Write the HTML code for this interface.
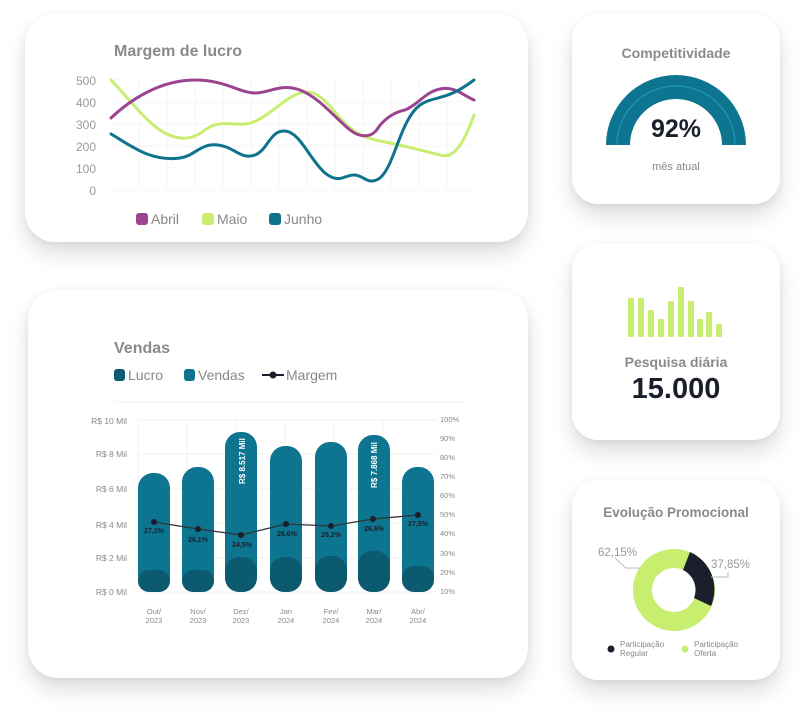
<!DOCTYPE html>
<html><head><meta charset="utf-8"><style>
html,body{margin:0;padding:0;background:#fff;width:808px;height:720px;overflow:hidden;font-family:"Liberation Sans",sans-serif}
.card{position:absolute;background:#fff;border-radius:30px;box-shadow:0 12px 22px rgba(0,0,0,0.13),0 2px 8px rgba(0,0,0,0.06)}
svg{position:absolute;left:0;top:0}
</style></head><body>
<div class="card" style="left:25px;top:14px;width:503px;height:228px"></div>
<div class="card" style="left:28px;top:290px;width:500px;height:388px"></div>
<div class="card" style="left:572px;top:14px;width:208px;height:190px;border-radius:26px"></div>
<div class="card" style="left:572px;top:244px;width:208px;height:196px;border-radius:26px"></div>
<div class="card" style="left:572px;top:480px;width:208px;height:200px;border-radius:26px"></div>
<svg width="808" height="720" viewBox="0 0 808 720" font-family="Liberation Sans, sans-serif">
<!-- Margem de lucro -->
<text x="114" y="56" font-size="16" font-weight="bold" fill="#8a8a8a">Margem de lucro</text>
<g stroke="#f5f5f5" stroke-width="1">
<line x1="111" y1="80" x2="474" y2="80"/><line x1="111" y1="102" x2="474" y2="102"/><line x1="111" y1="124" x2="474" y2="124"/><line x1="111" y1="146" x2="474" y2="146"/><line x1="111" y1="168" x2="474" y2="168"/><line x1="111" y1="190" x2="474" y2="190"/>
<line x1="139" y1="80" x2="139" y2="190"/><line x1="167" y1="80" x2="167" y2="190"/><line x1="195" y1="80" x2="195" y2="190"/><line x1="223" y1="80" x2="223" y2="190"/><line x1="251" y1="80" x2="251" y2="190"/><line x1="279" y1="80" x2="279" y2="190"/><line x1="307" y1="80" x2="307" y2="190"/><line x1="335" y1="80" x2="335" y2="190"/><line x1="363" y1="80" x2="363" y2="190"/><line x1="391" y1="80" x2="391" y2="190"/><line x1="419" y1="80" x2="419" y2="190"/><line x1="447" y1="80" x2="447" y2="190"/>
</g>
<g font-size="12" fill="#999" text-anchor="end">
<text x="96" y="85">500</text><text x="96" y="107">400</text><text x="96" y="129">300</text><text x="96" y="151">200</text><text x="96" y="173">100</text><text x="96" y="195">0</text>
</g>
<g fill="none" stroke-width="3" stroke-linecap="round" stroke-linejoin="round">
<path stroke="#c8ee70" d="M111,80 C130,100 145,120 160,130 C175,140 190,142 205,130 C218,120 230,125 245,124 C265,122 280,100 300,93 C315,88 325,100 340,118 C355,135 365,138 385,142 C405,146 420,150 440,155 C455,160 465,140 474,115"/>
<path stroke="#9b4592" d="M111,118 C130,100 160,80 195,80 C225,80 240,93 255,93 C270,93 280,83 300,90 C320,98 335,118 350,130 C360,138 372,138 378,128 C385,118 395,112 405,110 C418,105 425,92 440,89 C455,86 462,95 474,100"/>
<path stroke="#0f738d" d="M111,134 C130,145 150,162 180,158 C195,156 200,143 218,145 C235,147 240,160 255,155 C268,150 270,130 285,131 C300,132 310,160 325,173 C340,185 345,174 355,175 C365,176 368,186 380,178 C395,165 400,120 420,105 C435,95 445,102 474,80"/>
</g>
<g font-size="14" fill="#888">
<rect x="136" y="213" width="12" height="12" rx="3" fill="#9b4592"/><text x="151" y="224">Abril</text>
<rect x="202" y="213" width="12" height="12" rx="3" fill="#c8ee70"/><text x="217" y="224">Maio</text>
<rect x="269" y="213" width="12" height="12" rx="3" fill="#0f738d"/><text x="284" y="224">Junho</text>
</g>

<!-- Vendas -->
<text x="114" y="353" font-size="16" font-weight="bold" fill="#8a8a8a">Vendas</text>
<g font-size="14" fill="#888">
<rect x="114" y="369" width="11" height="12" rx="3" fill="#0b5a70"/><text x="128" y="380">Lucro</text>
<rect x="184" y="369" width="11" height="12" rx="3" fill="#0e7590"/><text x="198" y="380">Vendas</text>
<line x1="262" y1="375" x2="284" y2="375" stroke="#1a1f2b" stroke-width="2"/><circle cx="273" cy="375" r="3.5" fill="#1a1f2b"/><text x="286" y="380">Margem</text>
</g>
<line x1="114" y1="402" x2="465" y2="402" stroke="#f0f0f0"/>
<g stroke="#f2f2f2"><line x1="138" y1="420" x2="436" y2="420"/><line x1="138" y1="454" x2="436" y2="454"/><line x1="138" y1="489" x2="436" y2="489"/><line x1="138" y1="523" x2="436" y2="523"/><line x1="138" y1="558" x2="436" y2="558"/><line x1="138" y1="592" x2="436" y2="592"/>
<line x1="138" y1="420" x2="138" y2="592"/><line x1="187" y1="420" x2="187" y2="592"/><line x1="236" y1="420" x2="236" y2="592"/><line x1="285" y1="420" x2="285" y2="592"/><line x1="334" y1="420" x2="334" y2="592"/><line x1="383" y1="420" x2="383" y2="592"/></g>
<g font-size="8.5" fill="#888" text-anchor="end">
<text x="127" y="424">R$ 10 Mil</text><text x="127" y="457">R$ 8 Mil</text><text x="127" y="492">R$ 6 Mil</text><text x="127" y="528">R$ 4 Mil</text><text x="127" y="561">R$ 2 Mil</text><text x="127" y="595">R$ 0 Mil</text>
</g>
<g font-size="7.5" fill="#888">
<text x="440" y="422">100%</text><text x="440" y="441">90%</text><text x="440" y="460">80%</text><text x="440" y="479">70%</text><text x="440" y="498">60%</text><text x="440" y="517">50%</text><text x="440" y="536">40%</text><text x="440" y="556">30%</text><text x="440" y="575">20%</text><text x="440" y="594">10%</text>
</g>
<g fill="#0e7590">
<rect x="138" y="473" width="32" height="119" rx="15"/>
<rect x="182" y="467" width="32" height="125" rx="15"/>
<rect x="225" y="432" width="32" height="160" rx="15"/>
<rect x="270" y="446" width="32" height="146" rx="15"/>
<rect x="315" y="442" width="32" height="150" rx="15"/>
<rect x="358" y="435" width="32" height="157" rx="15"/>
<rect x="402" y="467" width="32" height="125" rx="15"/>
</g>
<g fill="#0b5a70">
<rect x="138" y="570" width="32" height="22" rx="11"/>
<rect x="182" y="570" width="32" height="22" rx="11"/>
<rect x="225" y="557" width="32" height="35" rx="14"/>
<rect x="270" y="557" width="32" height="35" rx="14"/>
<rect x="315" y="556" width="32" height="36" rx="14"/>
<rect x="358" y="551" width="32" height="41" rx="14"/>
<rect x="402" y="566" width="32" height="26" rx="12"/>
</g>
<g font-size="8" fill="#fff" font-weight="bold">
<text transform="translate(245,484) rotate(-90)">R$ 8.517 Mil</text>
<text transform="translate(377,488) rotate(-90)">R$ 7.868 Mil</text>
</g>
<polyline points="154,522 198,529 241,535 286,524 331,526 373,519 418,515" fill="none" stroke="#333" stroke-width="1.3"/>
<g fill="#1a1f2b"><circle cx="154" cy="522" r="3"/><circle cx="198" cy="529" r="3"/><circle cx="241" cy="535" r="3"/><circle cx="286" cy="524" r="3"/><circle cx="331" cy="526" r="3"/><circle cx="373" cy="519" r="3"/><circle cx="418" cy="515" r="3"/></g>
<g font-size="7" fill="#1a1f2b" font-weight="bold" text-anchor="middle">
<text x="154" y="533">27,1%</text><text x="198" y="542">26,1%</text><text x="242" y="547">24,5%</text><text x="287" y="536">26,6%</text><text x="331" y="537">26,2%</text><text x="374" y="531">26,6%</text><text x="418" y="526">27,5%</text>
</g>
<g font-size="7.5" fill="#888" text-anchor="middle">
<text x="154" y="614">Out/</text><text x="154" y="623">2023</text>
<text x="198" y="614">Nov/</text><text x="198" y="623">2023</text>
<text x="241" y="614">Dez/</text><text x="241" y="623">2023</text>
<text x="286" y="614">Jan</text><text x="286" y="623">2024</text>
<text x="331" y="614">Fev/</text><text x="331" y="623">2024</text>
<text x="374" y="614">Mar/</text><text x="374" y="623">2024</text>
<text x="418" y="614">Abr/</text><text x="418" y="623">2024</text>
</g>

<!-- Competitividade -->
<text x="676" y="58" font-size="14" font-weight="bold" fill="#8a8a8a" text-anchor="middle">Competitividade</text>
<path d="M606,145 A70,70 0 0 1 746,145 L722,145 A46,46 0 0 0 630,145 Z" fill="#0e7590"/>
<path d="M617,145 A59,59 0 0 1 735,145" fill="none" stroke="#1b94ad" stroke-width="1.5"/>
<text x="676" y="137" font-size="25" font-weight="bold" fill="#1a1f2b" text-anchor="middle">92%</text>
<text x="676" y="170" font-size="11" fill="#888" text-anchor="middle">mês atual</text>

<!-- Pesquisa diaria -->
<g fill="#c8ee70">
<rect x="628" y="298" width="6" height="39" rx="1"/><rect x="638" y="298" width="6" height="39" rx="1"/><rect x="648" y="310" width="6" height="27" rx="1"/><rect x="658" y="319" width="6" height="18" rx="1"/><rect x="668" y="301" width="6" height="36" rx="1"/><rect x="678" y="287" width="6" height="50" rx="1"/><rect x="688" y="301" width="6" height="36" rx="1"/><rect x="697" y="319" width="6" height="18" rx="1"/><rect x="706" y="312" width="6" height="25" rx="1"/><rect x="716" y="324" width="6" height="13" rx="1"/>
</g>
<text x="676" y="367" font-size="14" font-weight="bold" fill="#8a8a8a" text-anchor="middle">Pesquisa diária</text>
<text x="676" y="398" font-size="29" font-weight="bold" fill="#1a1f2b" text-anchor="middle">15.000</text>

<!-- Evolucao -->
<text x="676" y="517" font-size="13.5" font-weight="bold" fill="#8a8a8a" text-anchor="middle">Evolução Promocional</text>
<circle cx="674" cy="590" r="31.5" fill="none" stroke="#c8ee70" stroke-width="19"/>
<path d="M690,552 A41,41 0 0 1 711,606 L694,598 A22,22 0 0 0 683,570 Z" fill="#1a1f2b"/>
<polyline points="615,558 626,568 640,568" fill="none" stroke="#bbb" stroke-width="1"/>
<polyline points="728,572 728,577 711,577" fill="none" stroke="#bbb" stroke-width="1"/>
<text x="598" y="556" font-size="11.5" fill="#999">62,15%</text>
<text x="711" y="568" font-size="11.5" fill="#999">37,85%</text>
<circle cx="611" cy="649" r="3.5" fill="#1a1f2b"/>
<circle cx="685" cy="649" r="3.5" fill="#c8ee70"/>
<g font-size="8" fill="#888"><text x="620" y="647">Participação</text><text x="620" y="656">Regular</text><text x="694" y="647">Participação</text><text x="694" y="656">Oferta</text></g>
</svg>
</body></html>
